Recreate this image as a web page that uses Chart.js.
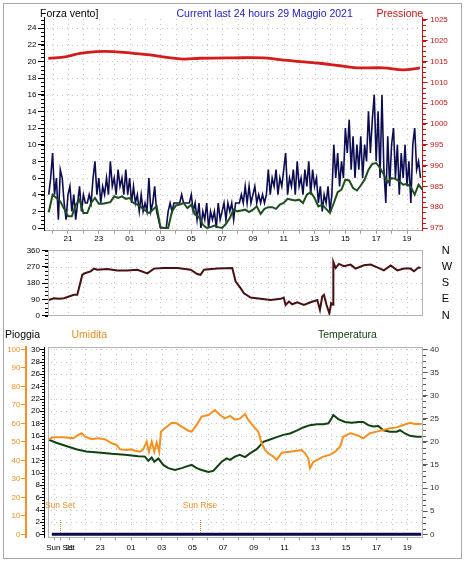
<!DOCTYPE html>
<html>
<head>
<meta charset="utf-8">
<script src="https://cdn.jsdelivr.net/npm/chart.js@4.4.1/dist/chart.umd.min.js"></script>
<style>
html,body{margin:0;padding:0;background:#fff;width:465px;height:564px;overflow:hidden}
#wrap{position:relative;width:465px;height:564px}
canvas{position:absolute;left:0;top:0}
#frame{position:absolute;left:3px;top:3px;width:457px;height:554px;border:1px solid #a8a8a8}
.t{position:absolute;font-family:"Liberation Sans",Arial,sans-serif;font-size:10.5px;line-height:1;white-space:nowrap}
</style>
</head>
<body>
<div id="wrap">
  <div id="frame"></div>
  <canvas id="c1" width="465" height="564"></canvas>
  <canvas id="c2" width="465" height="564"></canvas>
  <canvas id="c3" width="465" height="564"></canvas>
  <div class="t" style="left:40px;top:8px;color:#000">Forza vento]</div>
  <div class="t" style="left:176.5px;top:8px;color:#1a1ac8">Current last 24 hours 29 Maggio 2021</div>
  <div class="t" style="left:376.5px;top:8px;color:#cc1111">Pressione</div>
  <div class="t" style="left:5px;top:329px;color:#000">Pioggia</div>
  <div class="t" style="left:71.5px;top:329px;color:#f08a1c">Umidita</div>
  <div class="t" style="left:318px;top:329px;color:#0d3d0d">Temperatura</div>
</div>
<script>
// ================= DATA =================
// time axis: hours since midnight of the first day (24 = 00:00 next day)
const gustStart = 19.75, gustStep = 0.125;
const gustValues = [
  4,6,
  9,4,6,1,7,6,3,1,
  4,5,2,4,1,3,5,2,
  4,3,3,4,3,6,8,4,
  6,3,5,4,6,4,8,5,
  6,4,7,5,6,4,7,4,
  6,3,5,3,4,2,4,2,
  3,2,6,2,3,5,2,1,
  0,0,0,0,2,3,2,3,
  3,3,3,4,3,3,3,3,
  4,2,3,1,3,0,2,1,
  3,0,2,1,2,0,3,1,
  2,3,1,3,2,3,1,3,
  3,3,4,3,5,3,5,3,
  4,5,3,4,3,4,3,4,
  7,4,6,5,7,4,6,5,
  7,9,4,6,5,7,4,8,
  5,6,4,7,5,8,4,7,
  5,6,3,5,2,4,3,5,
  2,4,10,6,9,5,8,6,
  12,9,13,7,11,6,10,7,
  11,6,10,8,14,9,13,16,
  8,14,6,16,7,3,11,5,
  10,12,6,10,4,9,6,10,
  5,8,3,10,12,7,8,6
];
const avgStart = 19.75, avgStep = 0.25;
const avgValues = [
  1.9,
  4.0,3.6,3.2,2.3,
  1.4,1.4,2.8,3.4,
  1.8,1.8,3.0,3.6,
  2.9,2.9,3.0,3.1,
  3.8,3.6,3.8,3.5,
  3.6,3.0,2.8,2.5,
  2.1,1.8,2.2,2.6,
  0.1,0.0,0.0,2.0,
  2.7,2.8,3.0,2.4,
  2.8,1.6,1.3,0.4,
  0.0,0.1,0.3,0.1,
  0.0,0.5,1.2,2.2,
  2.0,2.1,2.2,1.9,
  2.2,2.6,1.7,2.3,
  2.5,2.5,2.3,2.8,
  3.0,3.5,3.4,3.3,
  3.4,3.0,4.0,4.3,
  3.6,2.6,2.8,2.3,
  1.8,3.0,4.3,4.6,
  5.8,5.7,4.8,4.5,
  5.1,5.8,7.0,7.7,
  7.8,7.2,6.4,5.5,
  6.0,5.9,5.6,5.2,
  5.3,4.9,4.0,5.2,
  4.6
];
const pressTimes  = [19.72,20.91,21.78,22.86,23.94,25.24,26.32,27.4,28.48,29.56,31.72,33.67,34.76,36.05,37.35,38.65,39.73,41.46,42.76,43.84];
const pressValues = [1015.8,1016.2,1017.0,1017.4,1017.4,1017.0,1016.6,1016.0,1015.6,1015.8,1015.9,1015.9,1015.5,1015.0,1014.6,1014.0,1013.5,1013.5,1013.0,1013.5];

const dirTimes  = [19.76,20.08,20.41,20.74,21.06,21.39,21.6,21.71,21.93,22.14,22.47,22.68,22.9,23.55,24.2,24.85,25.5,26.15,26.58,27.23,28.1,28.96,29.39,29.6,29.82,30.69,31.66,31.88,32.2,32.42,32.85,33.5,34.15,34.8,35.0,35.12,35.34,35.55,35.88,36.31,36.74,37.18,37.35,37.5,37.61,37.78,37.96,38.08,38.2,38.22,38.37,38.58,38.91,39.34,39.66,40.2,40.64,41.07,41.5,41.94,42.37,42.8,43.23,43.45,43.77,43.88];
const dirValues = [87,96,93,96,106,115,115,152,226,236,245,260,254,258,250,249,254,234,260,263,263,254,230,226,254,260,263,189,152,124,100,93,87,93,100,59,78,63,74,59,74,87,32,106,115,59,13,69,60,297,263,286,273,282,260,278,282,267,250,277,250,260,260,245,267,263];

const humTimes  = [19.6,19.94,20.59,21.24,21.57,21.78,22.0,22.44,22.87,23.3,23.74,24.06,24.28,24.72,25.04,25.26,25.59,25.8,26.02,26.17,26.35,26.52,26.67,26.84,26.95,27.21,27.65,27.97,28.3,28.73,28.95,29.28,29.6,30.04,30.47,30.8,31.12,31.45,31.77,32.09,32.43,32.64,32.97,33.29,33.51,33.73,33.94,34.27,34.49,34.82,35.36,35.79,36.12,36.34,36.55,36.66,36.88,37.2,37.53,37.96,38.29,38.62,38.83,39.27,39.7,40.13,40.57,41.0,41.44,41.87,42.31,42.74,43.18,43.5,43.94];
const humValues = [51.4,52.4,52.4,51.9,53.7,54.6,52.8,51.4,51.9,51.4,49.2,48.3,45.9,45.6,45.9,45.2,44.6,45.9,50.1,44.6,50.1,44.6,49.6,44.6,55.5,57.3,60.3,60.0,58.2,56.0,55.5,59.1,63.6,64.5,67.2,64.5,62.7,64.0,62.0,62.5,65.0,61.8,58.5,55.5,49.2,45.6,43.8,42.0,40.2,44.1,44.6,45.2,45.6,43.8,41.1,35.7,39.2,40.5,42.0,42.9,44.6,47.4,52.8,54.6,53.7,51.9,54.6,55.5,56.4,57.3,57.8,59.1,60.3,59.6,59.6];

const tempTimes  = [19.6,20.13,20.78,21.43,22.08,22.87,23.74,24.61,25.47,25.91,26.13,26.35,26.52,26.78,27.1,27.43,27.87,28.3,28.73,28.95,29.28,29.6,30.04,30.36,30.58,30.91,31.23,31.45,31.77,32.09,32.43,32.75,33.19,33.62,34.06,34.49,34.92,35.36,35.79,36.22,36.66,37.1,37.53,37.86,38.07,38.18,38.5,38.94,39.38,39.81,40.13,40.46,40.79,41.11,41.44,41.87,42.31,42.52,42.85,43.18,43.61,43.94];
const tempValues = [20.5,19.8,19.1,18.4,17.9,17.7,17.4,17.2,16.9,16.8,15.9,16.6,15.7,16.4,15.0,14.3,13.9,14.3,14.8,15.0,14.3,13.9,13.5,13.7,14.5,15.7,16.4,16.1,16.8,17.2,16.7,17.5,18.4,20.0,20.5,21.0,21.5,21.8,22.4,23.1,23.6,23.8,23.8,24.0,25.1,25.8,24.9,24.3,24.1,24.3,24.3,23.6,23.3,23.4,22.5,22.2,22.2,22.5,21.8,21.3,21.1,21.1];

const rainTimes  = [19.85, 43.9];
const rainValues = [0, 0];

const sunSetHour = 20.4, sunRiseHour = 29.5;

// tick values / labels
const hourTicks  = [20,21,22,23,24,25,26,27,28,29,30,31,32,33,34,35,36,37,38,39,40,41,42,43];
const hourLabels = ['','21','','23','','01','','03','','05','','07','','09','','11','','13','','15','','17','','19'];
const windTicks  = [0,2,4,6,8,10,12,14,16,18,20,22,24];
const pressTicks = [975,980,985,990,995,1000,1005,1010,1015,1020,1025];
const dirTicks   = [0,90,180,270,360];
const dirLetters = ['N','E','S','W','N'];
const rainTicks  = [0,2,4,6,8,10,12,14,16,18,20,22,24,26,28,30];
const humTicks   = [0,10,20,30,40,50,60,70,80,90,100];
const tempTicks  = [0,5,10,15,20,25,30,35,40];

// ================= HELPERS =================
Chart.defaults.font.family = '"Liberation Sans", Arial, Helvetica, sans-serif';
Chart.defaults.font.size = 8;
Chart.defaults.color = '#000';

const pts = (ts, vs) => ts.map((t, i) => ({x: t, y: vs[i]}));
const stepPts = (t0, dt, vs) => vs.map((v, i) => ({x: t0 + i * dt, y: v}));
function vr(vA, pA, vB, pB, pMin, pMax) { const k = (vB - vA) / (pB - pA); return {min: vA + (pMin - pA) * k, max: vA + (pMax - pA) * k}; }
const setTicks = arr => s => { s.ticks = arr.map(v => ({value: v})); };
const fixW = w => s => { s.width = w; s.paddingTop = s.paddingBottom = s.paddingLeft = s.paddingRight = 0; };
const fixH = h => s => { s.height = h; s.paddingTop = s.paddingBottom = s.paddingLeft = s.paddingRight = 0; };
const hourLbl = (list, labels) => (v) => { const i = list.indexOf(v); return i >= 0 ? labels[i] : ''; };

const A1 = {left: 44, right: 422.7, top: 17, bottom: 230.7};
const A2 = {left: 48, right: 422.7, top: 250, bottom: 316};
const A3 = {left: 48, right: 422.7, top: 346.7, bottom: 537.3};

const X1 = vr(21, 68, 43, 407, A1.left, A1.right);
const X2 = vr(21, 68, 43, 407, A2.left, A2.right);
const X3 = vr(23, 100.3, 43, 407.3, A3.left, A3.right);

const Y1 = vr(0, 228, 24, 28, A1.bottom, A1.top);
const Y1r = vr(975, 228, 1025, 20, A1.bottom, A1.top);
const Y2 = vr(0, 315.7, 360, 250.5, A2.bottom, A2.top);
const Y3r = vr(0, 534.3, 30, 349.3, A3.bottom, A3.top);
const Y3h = vr(0, 534.3, 100, 349.3, A3.bottom, A3.top);
const Y3t = vr(0, 534.3, 40, 349.3, A3.bottom, A3.top);

const GRID = '#c4c4c4';
function dotGrid(id, xId, xVals, yId, yVals) {
  return {id, beforeDatasetsDraw(chart) {
    const {ctx, chartArea: a} = chart;
    const xs = chart.scales[xId], ys = chart.scales[yId];
    ctx.save(); ctx.fillStyle = GRID;
    for (const v of xVals) {
      const px = Math.round(xs.getPixelForValue(v));
      if (px <= a.left + 1 || px >= a.right - 1) continue;
      for (let y = Math.ceil(a.top) + 2; y < a.bottom - 1; y += 5) ctx.fillRect(px, y, 1, 1);
    }
    for (const v of yVals) {
      const py = Math.round(ys.getPixelForValue(v));
      if (py <= a.top || py >= a.bottom) continue;
      for (let x = Math.ceil(a.left) + 3; x < a.right - 1; x += 5) ctx.fillRect(x, py, 1, 1);
    }
    ctx.restore();
  }};
}
function minorTicks(id, list) {
  return {id, afterDraw(chart) {
    const ctx = chart.ctx; ctx.save();
    for (const m of list) {
      const s = chart.scales[m.scale];
      ctx.fillStyle = m.color;
      for (let v = m.from; v <= m.to + 1e-9; v += m.step) {
        const py = Math.round(s.getPixelForValue(v));
        ctx.fillRect(Math.min(m.x, m.x + m.len), py, Math.abs(m.len), 1);
      }
    }
    ctx.restore();
  }};
}
const boxPlugin = (id, color) => ({id, afterDatasetsDraw(chart) {
  const {ctx, chartArea: a} = chart;
  ctx.save(); ctx.strokeStyle = color; ctx.lineWidth = 1;
  ctx.strokeRect(Math.round(a.left) + 0.5, Math.round(a.top) + 0.5, Math.round(a.right - a.left) - 1, Math.round(a.bottom - a.top) - 1);
  ctx.restore();
}});

const common = {animation: false, responsive: false, events: [], plugins: {legend: {display: false}, tooltip: {enabled: false}}};

// ================= PANEL 1: wind + pressure =================
new Chart(document.getElementById('c1'), {
  type: 'line',
  data: {datasets: [
    {data: pts(pressTimes, pressValues), yAxisID: 'y1', borderColor: '#d41c1c', borderWidth: 2.8, pointRadius: 0, tension: 0.4},
    {data: stepPts(avgStart, avgStep, avgValues), yAxisID: 'y', borderColor: '#1d4f1d', borderWidth: 2, pointRadius: 0},
    {data: stepPts(gustStart, gustStep, gustValues), yAxisID: 'y', borderColor: '#0c0c52', borderWidth: 1.6, pointRadius: 0}
  ]},
  options: {...common,
    layout: {padding: {left: 20, right: 465 - A1.right - 30, top: A1.top, bottom: 564 - A1.bottom - 14}},
    scales: {
      x: {type: 'linear', min: X1.min, max: X1.max, afterBuildTicks: setTicks(hourTicks), afterFit: fixH(14),
          ticks: {autoSkip: false, maxRotation: 0, minRotation: 0, padding: 0.5, color: '#000', callback: hourLbl(hourTicks, hourLabels)},
          grid: {drawOnChartArea: false, tickLength: 3, tickColor: '#9a9a9a'}, border: {color: '#a8a8a8'}},
      y: {position: 'left', min: Y1.min, max: Y1.max, afterBuildTicks: setTicks(windTicks), afterFit: fixW(24),
          ticks: {padding: 1.5, color: '#000', callback: v => String(v)},
          grid: {drawOnChartArea: false, tickLength: 6, tickColor: '#000'}, border: {color: '#000'}},
      y1: {position: 'right', min: Y1r.min, max: Y1r.max, afterBuildTicks: setTicks(pressTicks), afterFit: fixW(30),
          ticks: {padding: 2.3, color: '#c41414', callback: v => String(v)},
          grid: {drawOnChartArea: false, tickLength: 5, tickColor: '#c41414'}, border: {color: '#c41414'}}
    }
  },
  plugins: [dotGrid('g1', 'x', hourTicks, 'y', windTicks),
            minorTicks('m1', [{scale: 'y', from: 0, to: 25, step: 0.5, x: 44, len: -3, color: '#000'},
                              {scale: 'y1', from: 975, to: 1025, step: 1.25, x: 423, len: 3, color: '#c41414'}])]
});

// ================= PANEL 2: wind direction =================
new Chart(document.getElementById('c2'), {
  type: 'line',
  data: {datasets: [
    {data: pts(dirTimes, dirValues), yAxisID: 'y', borderColor: '#4a1010', borderWidth: 2, pointRadius: 0}
  ]},
  options: {...common,
    layout: {padding: {left: 20, right: 465 - A2.right - 30, top: A2.top, bottom: 564 - A2.bottom}},
    scales: {
      x: {type: 'linear', min: X2.min, max: X2.max, afterBuildTicks: setTicks(hourTicks), afterFit: fixH(0),
          ticks: {display: false}, grid: {drawOnChartArea: false, drawTicks: false}, border: {display: false}},
      y: {position: 'left', min: Y2.min, max: Y2.max, afterBuildTicks: setTicks(dirTicks), afterFit: fixW(28),
          ticks: {padding: 2, color: '#000', callback: v => String(v)},
          grid: {drawOnChartArea: false, tickLength: 6, tickColor: '#000'}, border: {display: false}},
      y1: {position: 'right', min: Y2.min, max: Y2.max, afterBuildTicks: setTicks(dirTicks), afterFit: fixW(30),
          ticks: {padding: 19, color: '#000', font: {size: 11}, callback: v => dirLetters[dirTicks.indexOf(v)]},
          grid: {drawOnChartArea: false, drawTicks: false}, border: {display: false}}
    }
  },
  plugins: [dotGrid('g2', 'x', hourTicks, 'y', [90, 180, 270]), boxPlugin('b2', '#b4b4b4'),
            minorTicks('m2', [{scale: 'y', from: 0, to: 360, step: 22.5, x: 48, len: -3, color: '#000'}])]
});

// ================= PANEL 3: rain / humidity / temperature =================
const hourTicks3 = [20, sunSetHour].concat(hourTicks.slice(1));
const hourLabels3 = ['', 'Sun Set'].concat(hourLabels.slice(1));
const sunPlugin = {id: 'sun', afterDatasetsDraw(chart) {
  const {ctx} = chart; const xs = chart.scales.x;
  ctx.save();
  ctx.font = '8.5px "Liberation Sans", Arial, sans-serif';
  ctx.textAlign = 'center'; ctx.textBaseline = 'alphabetic';
  [[sunSetHour, 'Sun Set'], [sunRiseHour, 'Sun Rise']].forEach(([h, txt]) => {
    const px = Math.round(xs.getPixelForValue(h));
    ctx.fillStyle = '#c07a3a';
    for (let y = 520; y < 534; y += 2) ctx.fillRect(px, y, 1, 1);
    ctx.fillStyle = '#f0902a';
    ctx.fillText(txt, px, 507.5);
  });
  const yr = chart.scales.yRain;
  ctx.fillStyle = '#000';
  ctx.fillRect(44, Math.round(A3.top), 1, Math.round(A3.bottom - A3.top));
  rainTicks.forEach(v => ctx.fillRect(40, Math.round(yr.getPixelForValue(v)), 4, 1));
  for (let v = 0; v <= 30; v += 0.5) ctx.fillRect(42, Math.round(yr.getPixelForValue(v)), 2, 1);
  ctx.restore();
}};

new Chart(document.getElementById('c3'), {
  type: 'line',
  data: {datasets: [
    {data: pts(rainTimes, rainValues), yAxisID: 'yRain', borderColor: '#0a0a4a', borderWidth: 3, pointRadius: 0},
    {data: pts(humTimes, humValues), yAxisID: 'yHum', borderColor: '#f7901e', borderWidth: 2, pointRadius: 0},
    {data: pts(tempTimes, tempValues), yAxisID: 'yTemp', borderColor: '#0f420f', borderWidth: 2, pointRadius: 0}
  ]},
  options: {...common,
    layout: {padding: {left: 0, right: 465 - A3.right - 30, top: A3.top, bottom: 564 - A3.bottom - 16}},
    scales: {
      x: {type: 'linear', min: X3.min, max: X3.max, afterBuildTicks: setTicks(hourTicks3), afterFit: fixH(16),
          ticks: {autoSkip: false, maxRotation: 0, minRotation: 0, padding: 2.6, color: '#000', callback: hourLbl(hourTicks3, hourLabels3)},
          grid: {drawOnChartArea: false, tickLength: 3, tickColor: '#9a9a9a'}, border: {color: '#a8a8a8'}},
      yRain: {position: 'left', weight: 0, min: Y3r.min, max: Y3r.max, afterBuildTicks: setTicks(rainTicks), afterFit: fixW(22),
          ticks: {padding: 8, color: '#000', callback: v => String(v)},
          grid: {drawOnChartArea: false, drawTicks: false}, border: {display: false}},
      yHum: {position: 'left', weight: 1, min: Y3h.min, max: Y3h.max, afterBuildTicks: setTicks(humTicks), afterFit: fixW(26),
          ticks: {padding: 0.5, color: '#f0902a', callback: v => String(v)},
          grid: {drawOnChartArea: false, tickLength: 5, tickColor: '#f7901e'}, border: {color: '#f7901e', width: 2}},
      yTemp: {position: 'right', min: Y3t.min, max: Y3t.max, afterBuildTicks: setTicks(tempTicks), afterFit: fixW(30),
          ticks: {padding: 2.3, color: '#1a2e1a', callback: v => String(v)},
          grid: {drawOnChartArea: false, tickLength: 5, tickColor: '#555'}, border: {display: false}}
    }
  },
  plugins: [dotGrid('g3', 'x', hourTicks, 'yRain', rainTicks), boxPlugin('b3', '#b4b4b4'), sunPlugin,
            minorTicks('m3', [{scale: 'yTemp', from: 0, to: 40, step: 1.25, x: 423, len: 3, color: '#555'}])]
});
</script>
</body>
</html>
